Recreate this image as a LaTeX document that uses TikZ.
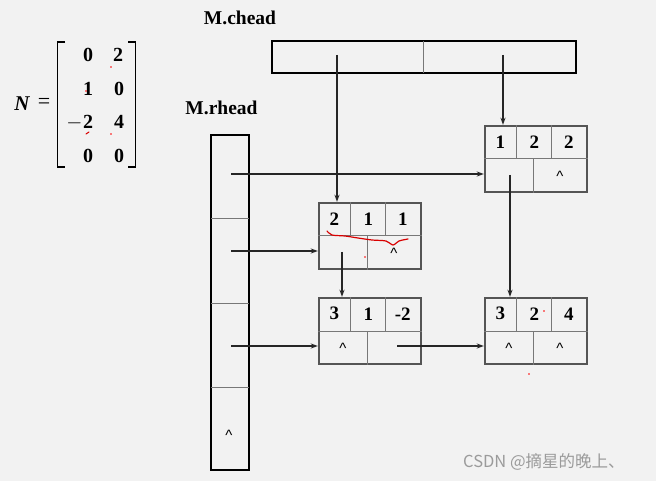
\documentclass[tikz,border=0pt]{standalone}
\usepackage{fontspec}
\setmainfont{Liberation Serif}
\newfontfamily\cjkfont{Noto Sans CJK SC}
\newfontfamily\sansfont{Liberation Sans}
\usetikzlibrary{arrows.meta,calc}
\definecolor{bg}{RGB}{242,242,242}
\definecolor{boxedge}{RGB}{85,85,85}
\definecolor{divline}{RGB}{120,120,120}
\definecolor{wm}{RGB}{155,155,155}
\tikzset{
  x=1pt, y=-1pt,
  lnode/.style={draw=boxedge, line width=2.4pt, minimum width=102pt, minimum height=66pt, inner sep=0pt},
  divl/.style={draw=divline, line width=1pt},
  num/.style={font=\fontsize{19}{19}\selectfont\bfseries, inner sep=0pt},
  mat/.style={font=\fontsize{20}{20}\selectfont\bfseries, inner sep=0pt},
  caret/.style={font=\sansfont\fontsize{15}{15}\selectfont, inner sep=0pt},
  lbl/.style={font=\fontsize{19.5}{19.5}\selectfont\bfseries, inner sep=0pt},
  ptr/.style={draw=black!85, line width=1.2pt, -{Stealth[length=7pt,width=5pt]}},
  headbox/.style={draw=black, line width=2.2pt},
  redmark/.style={draw=red!85!black, line width=1.2pt, line cap=round}
}
\newcommand{\listnodebox}[8]{%
  \node[lnode] (#1) at (#2,#3) {};
  \draw[divl] (#1.west) -- (#1.east);
  \draw[divl] ($(#1.north west)+(33,0)$) -- ($(#1.west)+(33,0)$);
  \draw[divl] ($(#1.north west)+(68,0)$) -- ($(#1.west)+(68,0)$);
  \draw[divl] ($(#1.west)+(50,0)$) -- ($(#1.south west)+(50,0)$);
  \node[num] (#1a) at ($(#1.north west)+(16.5,17)$) {#4};
  \node[num] (#1b) at ($(#1.north west)+(50.5,17)$) {#5};
  \node[num] (#1c) at ($(#1.north west)+(85,17)$) {#6};
  \node[caret] (#1d) at ($(#1.north west)+(25,52)$) {#7};
  \node[caret] (#1e) at ($(#1.north west)+(76,52)$) {#8};
}
\begin{document}
\begin{tikzpicture}
\fill[bg] (0,0) rectangle (656,481);
\useasboundingbox (0,0) rectangle (656,481);

% matrix N
\node[font=\fontsize{21}{21}\selectfont\bfseries\itshape, inner sep=0pt] (N) at (22,104) {N};
\node[font=\fontsize{22}{22}\selectfont, inner sep=0pt] (eq) at (44,103) {=};
\draw[line width=1.2pt] (65,42) -- (57.5,42) -- (57.5,167) -- (65,167);
\draw[line width=1.2pt] (128,42) -- (135.5,42) -- (135.5,167) -- (128,167);
\node[mat] (m11) at (88,55) {0};
\node[mat] (m12) at (118,55) {2};
\node[mat] (m21) at (88,89) {1};
\node[mat] (m22) at (119,89) {0};
\node[mat] (m31) at (88,122) {2};
\node[font=\fontsize{20}{20}\selectfont, inner sep=0pt] (m31m) at (74.5,123) {$-$};
\node[mat] (m32) at (119,122) {4};
\node[mat] (m41) at (88,156) {0};
\node[mat] (m42) at (119,156) {0};

% labels
\node[lbl] (lc) at (240,18) {M.chead};
\node[lbl] (lr) at (221.5,108) {M.rhead};

% column head
\draw[headbox] (272,41) rectangle (576,73);
\draw[divl] (423,41) -- (423,73);
\coordinate (c1) at (337,55);
\coordinate (c2) at (503,55);

% row head
\draw[headbox] (211,135) rectangle (249,470);
\draw[divl] (211,219) -- (249,219);
\draw[divl] (211,303) -- (249,303);
\draw[divl] (211,387) -- (249,387);
\node[caret] (rcaret) at (229,435) {\textasciicircum};
\coordinate (r1) at (231,174);
\coordinate (r2) at (231,251);
\coordinate (r3) at (231,346);

% list nodes
\listnodebox{na}{370}{236}{2}{1}{1}{}{\textasciicircum}
\listnodebox{nb}{536}{159}{1}{2}{2}{}{\textasciicircum}
\listnodebox{nc}{370}{331}{3}{1}{-2}{\textasciicircum}{}
\listnodebox{nd}{536}{331}{3}{2}{4}{\textasciicircum}{\textasciicircum}

\coordinate (pa) at (342,252);
\coordinate (pb) at (510,175);
\coordinate (pc) at (397,346);

% connectors
\draw[ptr] (c1) -- (c1 |- na.north);
\draw[ptr] (c2) -- (c2 |- nb.north);
\draw[ptr] (r1) -- (r1 -| nb.west);
\draw[ptr] (r2) -- (r2 -| na.west);
\draw[ptr] (r3) -- (r3 -| nc.west);
\draw[ptr] (pa) -- (pa |- nc.north);
\draw[ptr] (pb) -- (pb |- nd.north);
\draw[ptr] (pc) -- (pc -| nd.west);

% red annotations
\draw[redmark] plot[smooth] coordinates {(327,231) (332,235) (345,236) (358,238) (372,240) (386,241) (393,245) (399,241) (408,239)};
\fill[red] (111,67) circle (0.9);
\fill[red] (86,91) circle (0.9);
\draw[redmark, line width=1pt] (86,134) -- (89,132);
\fill[red] (111,134) circle (0.9);
\fill[red] (365,257) circle (0.8);
\fill[red] (544,311) circle (0.9);
\fill[red] (529,374) circle (0.8);

% watermark
\node[font=\cjkfont\fontsize{16.5}{16.5}\selectfont, text=wm, anchor=west, inner sep=0pt] (wmk) at (463,462) {CSDN @摘星的晚上、};
\end{tikzpicture}
\end{document}
